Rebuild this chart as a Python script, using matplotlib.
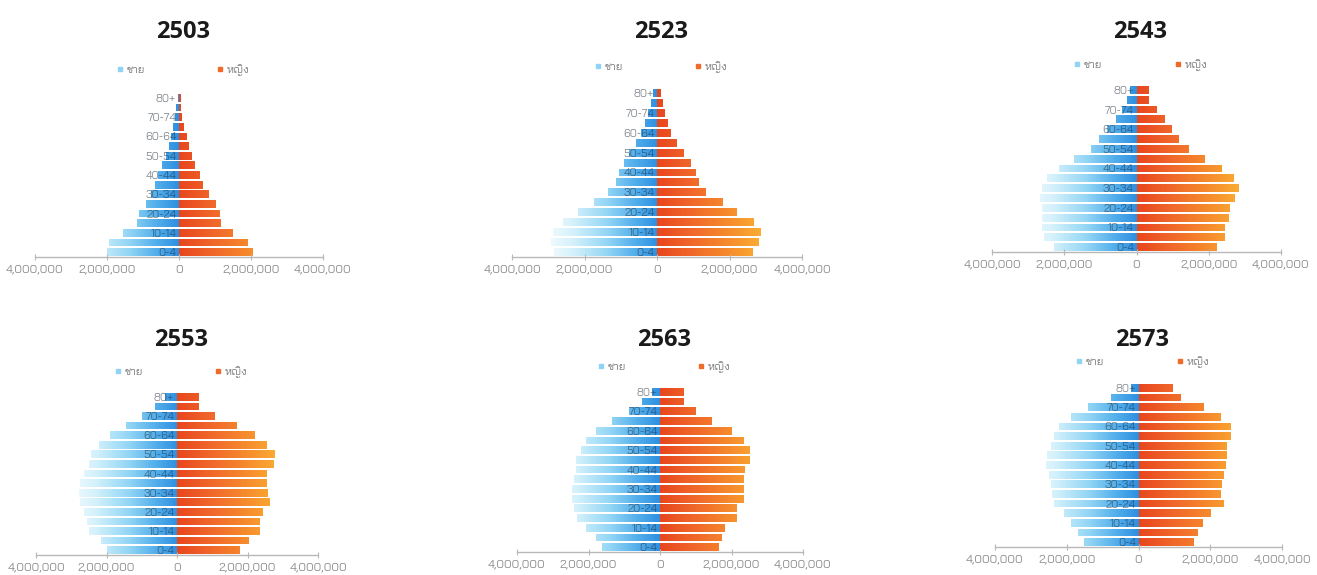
import numpy as np
import matplotlib
matplotlib.use("Agg")
import matplotlib.pyplot as plt
from matplotlib.colors import LinearSegmentedColormap
from matplotlib.lines import Line2D
from matplotlib.path import Path
from matplotlib.patches import PathPatch
from matplotlib.ticker import FuncFormatter

plt.rcParams['font.family'] = ['Bai Jamjuree', 'DejaVu Sans']

# age groups, bottom to top
ages = ['0-4', '5-9', '10-14', '15-19', '20-24', '25-29', '30-34', '35-39', '40-44',
        '45-49', '50-54', '55-59', '60-64', '65-69', '70-74', '75-79', '80+']
years = ['2503', '2523', '2543', '2553', '2563', '2573']

# population in millions
male_2503 = [2.00, 1.95, 1.55, 1.18, 1.10, 0.92, 0.78, 0.66, 0.57, 0.46, 0.37, 0.29, 0.23, 0.16, 0.10, 0.07, 0.04]
female_2503 = [2.05, 1.93, 1.50, 1.16, 1.14, 1.02, 0.84, 0.68, 0.59, 0.45, 0.36, 0.29, 0.23, 0.15, 0.09, 0.06, 0.045]

male_2523 = [2.83, 2.92, 2.88, 2.60, 2.19, 1.73, 1.36, 1.13, 1.04, 0.92, 0.76, 0.58, 0.44, 0.33, 0.24, 0.17, 0.11]
female_2523 = [2.64, 2.82, 2.86, 2.68, 2.22, 1.81, 1.35, 1.17, 1.08, 0.94, 0.75, 0.55, 0.39, 0.29, 0.22, 0.16, 0.11]

male_2543 = [2.29, 2.56, 2.61, 2.61, 2.61, 2.66, 2.61, 2.47, 2.15, 1.73, 1.27, 1.04, 0.81, 0.58, 0.40, 0.26, 0.18]
female_2543 = [2.23, 2.46, 2.46, 2.56, 2.58, 2.74, 2.83, 2.69, 2.37, 1.91, 1.45, 1.17, 0.99, 0.80, 0.57, 0.34, 0.34]

male_2553 = [1.98, 2.17, 2.50, 2.55, 2.64, 2.74, 2.78, 2.74, 2.64, 2.50, 2.45, 2.22, 1.89, 1.46, 0.99, 0.61, 0.33]
female_2553 = [1.79, 2.03, 2.36, 2.36, 2.45, 2.64, 2.59, 2.55, 2.55, 2.74, 2.78, 2.55, 2.22, 1.70, 1.08, 0.61, 0.61]

male_2563 = [1.61, 1.80, 2.07, 2.31, 2.40, 2.45, 2.45, 2.40, 2.35, 2.35, 2.21, 2.07, 1.80, 1.33, 0.87, 0.49, 0.21]
female_2563 = [1.65, 1.74, 1.83, 2.16, 2.16, 2.34, 2.34, 2.34, 2.39, 2.53, 2.53, 2.34, 2.00, 1.46, 1.00, 0.67, 0.67]

male_2573 = [1.52, 1.70, 1.89, 2.07, 2.35, 2.40, 2.45, 2.49, 2.59, 2.54, 2.45, 2.35, 2.21, 1.89, 1.42, 0.77, 0.21]
female_2573 = [1.55, 1.65, 1.79, 2.02, 2.39, 2.30, 2.34, 2.39, 2.44, 2.48, 2.48, 2.58, 2.58, 2.30, 1.83, 1.18, 0.95]

males = [male_2503, male_2523, male_2543, male_2553, male_2563, male_2573]
females = [female_2503, female_2523, female_2543, female_2553, female_2563, female_2573]

W, H = 1317, 575
# panel boxes in pixels: left, right, top, bottom(axis line)
boxes = [(35, 323, 93, 257), (512, 802, 88, 257), (992, 1281, 85, 252),
         (36, 318, 392, 555), (517, 803, 387, 552), (995, 1282, 383, 547)]
title_y = [32, 32, 32, 340, 340, 340]
legend_y = [70, 67, 65, 372, 367, 362]

male_cmap = LinearSegmentedColormap.from_list(
    'male', [(0.0, '#f6fcfe'), (0.25, '#d4f1fb'), (0.55, '#93d6f5'), (0.8, '#52aeeb'), (1.0, '#2f8fe0')])
female_cmap = LinearSegmentedColormap.from_list(
    'female', [(0.0, '#e8461d'), (0.3, '#f0652a'), (0.6, '#f5852c'), (1.0, '#fbb233')])

LIM = 4e6


def gradient_fill(ax, bars, cmap, x0, x1):
    paths = [b.get_path().transformed(b.get_patch_transform()) for b in bars]
    clip = PathPatch(Path.make_compound_path(*paths), transform=ax.transData,
                     facecolor='none', edgecolor='none')
    ax.add_patch(clip)
    grad = np.linspace(0, 1, 256).reshape(1, -1)
    im = ax.imshow(grad, extent=[x0, x1, -0.5, len(ages) - 0.5], aspect='auto',
                   cmap=cmap, origin='lower', interpolation='bilinear', zorder=1.5)
    im.set_clip_path(clip)


fig = plt.figure(figsize=(W / 100, H / 100), dpi=100)

for i, year in enumerate(years):
    l, r, t, b = boxes[i]
    ax = fig.add_axes([l / W, 1 - b / H, (r - l) / W, (b - t) / H])
    ax.patch.set_alpha(0)
    y = np.arange(len(ages))
    m = np.array(males[i]) * 1e6
    f = np.array(females[i]) * 1e6
    mb = ax.barh(y, -m, height=0.8, color='#93d6f5', zorder=1)
    fb = ax.barh(y, f, height=0.8, color='#f0652a', zorder=1)
    gradient_fill(ax, mb, male_cmap, -3.1e6, 0)
    gradient_fill(ax, fb, female_cmap, 0, 3.0e6)

    ax.set_xlim(-LIM, LIM)
    ax.set_ylim(-0.5, len(ages) - 0.5)

    for s in ['top', 'right']:
        ax.spines[s].set_visible(False)
    ax.spines['bottom'].set_color('#b8b8b8')
    ax.spines['bottom'].set_linewidth(1.0)
    ax.spines['left'].set_position(('data', 0))
    ax.spines['left'].set_color('none')

    ax.set_xticks([-4e6, -2e6, 0, 2e6, 4e6])
    ax.xaxis.set_major_formatter(FuncFormatter(lambda v, p: f"{abs(int(v)):,}"))
    ax.tick_params(axis='x', direction='inout', length=5, width=0.8, color='#b8b8b8',
                   labelsize=8.5, labelcolor='#8a8a8a', pad=3)
    ax.set_yticks(y[::2])
    ax.set_yticklabels(ages[::2])
    ax.tick_params(axis='y', length=0, pad=2, labelsize=8)
    for lab in ax.get_yticklabels():
        lab.set_color('#1f2a36')
        lab.set_alpha(0.55)

    cx = (l + r) / 2 + 4
    fig.text(cx / W, 1 - title_y[i] / H, year, ha='center', va='center',
             fontsize=17, fontweight='bold', color='#1a1a1a', family='Open Sans')

    handles = [Line2D([], [], marker='s', markersize=3.5, linestyle='none', color='#8fd4f4'),
               Line2D([], [], marker='s', markersize=3.5, linestyle='none', color='#f06a2a')]
    ax.legend(handles, ['ชาย', 'หญิง'], loc='center', ncol=2,
              bbox_to_anchor=(cx / W, 1 - legend_y[i] / H), bbox_transform=fig.transFigure,
              frameon=False, fontsize=8, labelcolor='#7a7a7a', handlelength=0.6,
              handletextpad=0.3, columnspacing=6.5, borderpad=0)

fig.savefig('out.png', dpi=100)
